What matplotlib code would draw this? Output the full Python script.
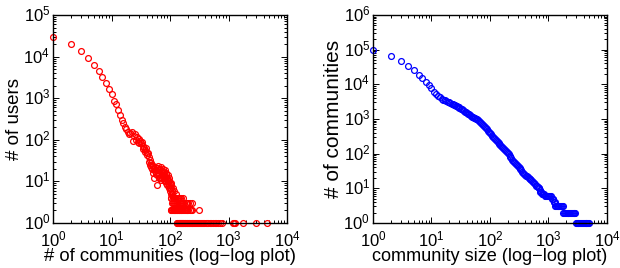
import matplotlib
matplotlib.use("Agg")
import matplotlib.pyplot as plt
import matplotlib.transforms as mtransforms
from matplotlib.ticker import LogLocator, FixedFormatter, NullFormatter

# --- left panel: users vs. number of communities joined ---
# x = 1..100, one count per value
users_x = list(range(1, 101))
users_y = [29000, 20000, 13500, 9200, 6400, 4600, 3300, 2300, 1650, 1250,
           880, 720, 530, 390, 300, 250, 205, 178, 156, 138,
           148, 150, 92, 123, 140, 97, 118, 90, 105, 86,
           95, 83, 88, 70, 60, 65, 57, 52, 62, 47,
           42, 48, 30, 38, 33, 25, 28, 22, 25, 20,
           23, 16, 21, 12, 18, 22, 15, 19, 8, 21,
           14, 17, 23, 12, 19, 15, 20, 13, 17, 11,
           22, 14, 18, 12, 16, 20, 13, 11, 17, 14,
           12, 19, 10, 15, 13, 9, 16, 11, 12, 8,
           14, 10, 11, 9, 12, 7, 10, 8, 9, 7]

# tail beyond 100 communities
tail_x = [101, 102, 103, 104, 105, 106, 108, 110, 112, 116, 119, 125, 139, 150]
tail_y = [6, 9, 5, 8, 4, 7, 6, 5, 7, 4, 6, 5, 4, 4]
fours_x = [104, 111, 117, 122, 129, 136, 145, 155, 166]
threes_x = [108, 113, 118, 123, 128, 134, 140, 147, 154, 161, 168, 176, 185,
            195, 205, 220, 235]
twos_x = [103, 106, 109, 112, 115, 118, 121, 124, 127, 130, 133, 136, 140, 144,
          148, 152, 157, 162, 167, 173, 179, 185, 192, 199, 207, 216, 225, 235,
          316]
ones_x = [131, 134, 137, 140, 143, 146, 149, 152, 155, 158, 162, 166, 170, 174,
          178, 182, 187, 192, 197, 202, 208, 214, 220, 227, 234, 241, 249, 257,
          266, 275, 285, 296, 307, 320, 334, 350, 366, 385, 405, 430, 455, 480,
          510, 545, 580, 620, 665, 720, 760, 1180, 1230, 1290, 1790, 2940, 4560]

# --- right panel: communities vs. community size ---
size_x = [1, 2, 3, 4, 5, 6, 7, 8, 9, 10, 11, 12, 13, 14, 15, 16, 17, 18, 19, 20,
          21, 22, 23, 24, 25, 26, 27, 28, 29, 30, 32, 33, 35, 36, 38, 39, 41, 42,
          44, 46, 48, 50, 52, 54, 56, 58, 60, 63, 65, 68, 71, 74, 77, 80, 83, 86,
          90, 93, 97, 100, 104, 108, 112, 116, 120, 125, 130, 135, 140, 145, 150,
          156, 162, 168, 174, 180, 187, 194, 201, 208, 216, 224, 232, 240, 249,
          258, 267, 277, 287, 298, 309, 320, 332, 344, 357, 370, 383, 397, 411,
          426, 442, 458, 475, 492, 510, 528, 547, 567, 588, 609, 631, 654, 678,
          702, 716, 730, 742, 754, 780, 810, 840, 870, 900, 935, 970, 1000, 1040,
          1075, 1110, 1150, 1175, 1200, 1220, 1240, 1270, 1300, 1330, 1380, 1430,
          1480, 1530, 1590, 1650, 1700, 1750, 1800, 1850, 1920, 1980, 2050, 2120,
          2190, 2270, 2350, 2430, 2520, 2600, 2690, 2780, 2870, 2950, 3050, 3150,
          3250, 3350, 3470, 3600, 3720, 3850, 4000, 4150, 4300, 4450, 4600, 4750,
          4900]
size_y = [98000, 67000, 47000, 34500, 25300, 19000, 14900, 12000, 9600, 7700,
          6100, 5300, 4600, 4200, 3900, 3650, 3450, 3300, 3150, 3000,
          2870, 2750, 2650, 2550, 2460, 2380, 2300, 2220, 2150, 2080, 1960, 1900,
          1780, 1720, 1620, 1570, 1480, 1440, 1370, 1300, 1240, 1180, 1130, 1080,
          1040, 1000, 970, 920, 880, 830, 780, 720, 670, 620, 580, 540,
          500, 460, 425, 390, 360, 330, 305, 285, 265, 250, 235, 220, 207, 195, 182,
          170, 158, 148, 138, 128, 119, 110, 102, 95, 87, 80, 73, 67, 62,
          57, 53, 49, 46, 43, 40, 38, 35, 33, 30, 28, 26, 25, 23,
          22, 21, 20, 19, 18, 17, 16, 15, 14, 13, 12, 12, 11, 10,
          10, 9, 8, 8, 8, 7, 7, 7, 6, 6, 6, 6, 6, 6,
          6, 6, 5, 5, 5, 4, 4, 4, 3, 3, 3, 3,
          3, 3, 3, 3, 3, 3, 2, 2, 2, 2, 2, 2,
          2, 2, 2, 2, 2, 2, 2, 2, 2, 1, 1, 1,
          1, 1, 1, 1, 1, 1, 1, 1, 1, 1, 1, 1,
          1]

plt.rcParams['font.family'] = ['Liberation Sans', 'DejaVu Sans']
plt.rcParams['mathtext.fontset'] = 'custom'
plt.rcParams['mathtext.rm'] = 'Liberation Sans'
plt.rcParams['mathtext.default'] = 'regular'

fig = plt.figure(figsize=(6.2, 2.68), dpi=100)


def style_axes(ax, ymax):
    ax.set_xscale('log')
    ax.set_yscale('log')
    ax.set_xlim(1, 1e4)
    ax.set_ylim(1, 10 ** ymax)
    ax.set_xticks([10 ** i for i in range(5)])
    ax.xaxis.set_major_formatter(FixedFormatter(['$10^{%d}$' % i for i in range(5)]))
    ax.set_yticks([10 ** i for i in range(ymax + 1)])
    ax.yaxis.set_major_formatter(FixedFormatter(['$10^{%d}$' % i for i in range(ymax + 1)]))
    for axis in (ax.xaxis, ax.yaxis):
        axis.set_minor_locator(LogLocator(base=10, subs=range(2, 10), numticks=20))
        axis.set_minor_formatter(NullFormatter())
    ax.tick_params(which='both', direction='in', top=True, right=True,
                   width=0.7, labelsize=12)
    ax.tick_params(axis='x', pad=5)
    ax.tick_params(axis='y', pad=2)
    ax.tick_params(which='major', length=4)
    ax.tick_params(which='minor', length=2)
    for s in ax.spines.values():
        s.set_linewidth(1.0)
    # nudge y tick labels up a little so the corner labels don't collide
    up = mtransforms.ScaledTranslation(0, 1.5 / 72, fig.dpi_scale_trans)
    for lab in ax.get_yticklabels():
        lab.set_transform(lab.get_transform() + up)
    ax.xaxis.set_label_coords(0.5, -0.122)
    ax.yaxis.set_label_coords(-0.13, 0.5)


mk = dict(linestyle='none', marker='o', markerfacecolor='none',
          markersize=4.2, markeredgewidth=0.9, clip_on=False)

ax1 = fig.add_axes([0.0855, 0.168, 0.3774, 0.776])
ax1.plot(users_x, users_y, color='red', **mk)
ax1.plot(tail_x, tail_y, color='red', **mk)
ax1.plot(fours_x, [4] * len(fours_x), color='red', **mk)
ax1.plot(threes_x, [3] * len(threes_x), color='red', **mk)
ax1.plot(twos_x, [2] * len(twos_x), color='red', **mk)
ax1.plot(ones_x, [1] * len(ones_x), color='red', **mk)
style_axes(ax1, 5)
ax1.set_xlabel('# of communities (log\u2212log plot)', fontsize=13.3)
ax1.set_ylabel('# of users', fontsize=13.5)

ax2 = fig.add_axes([0.6016, 0.168, 0.3774, 0.776])
ax2.plot(size_x, size_y, color='blue', **mk)
style_axes(ax2, 6)
ax2.set_xlabel('community size (log\u2212log plot)', fontsize=13.1)
ax2.set_ylabel('# of communities', fontsize=15)

fig.savefig('out.png', dpi=100)
